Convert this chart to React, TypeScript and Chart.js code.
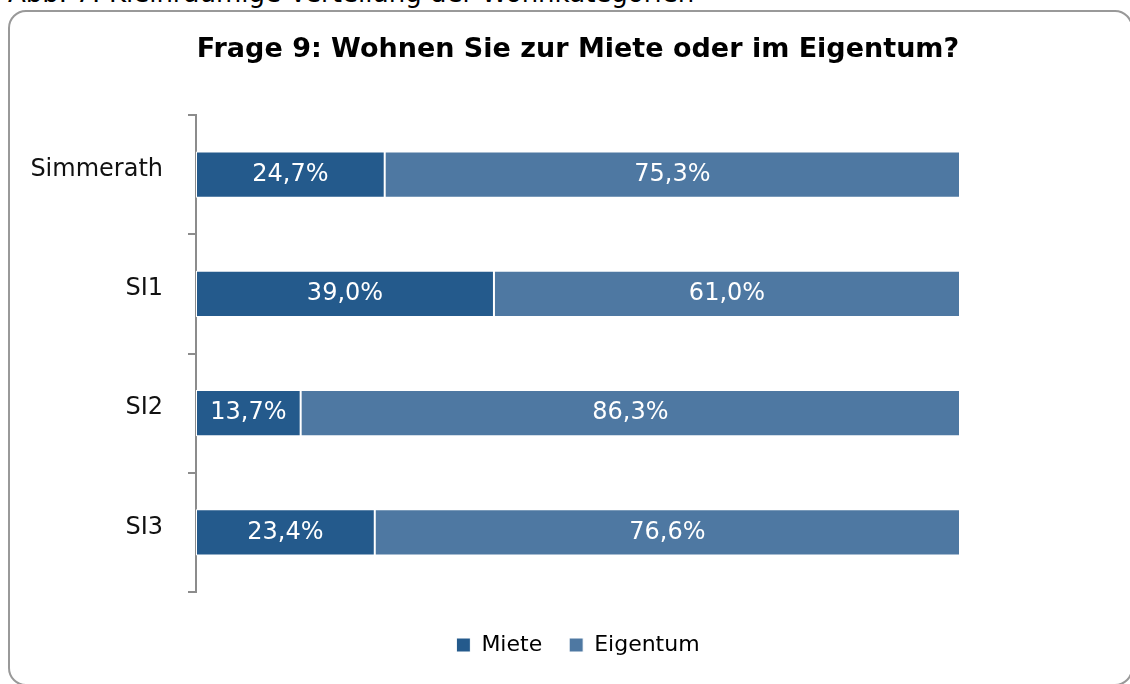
import React, { useEffect, useRef } from "react";
import { Chart, registerables } from "chart.js";

Chart.register(...registerables);

const captionText = "Abb. 7: Kleinräumige Verteilung der Wohnkategorien";
const chartTitle = "Frage 9: Wohnen Sie zur Miete oder im Eigentum?";
const categories = ["Simmerath", "SI1", "SI2", "SI3"];
const seriesNames = ["Miete", "Eigentum"];
const mieteValues = [24.7, 39.0, 13.7, 23.4];
const eigentumValues = [75.3, 61.0, 86.3, 76.6];
const seriesColors = ["#245A8C", "#4E78A2"];

const FONT = "'DejaVu Sans', Verdana, sans-serif";

const fmt = (v: number) => v.toFixed(1).replace(".", ",") + "%";

const valueLabels = {
  id: "valueLabels",
  afterDatasetsDraw(chart: any) {
    const ctx = chart.ctx;
    ctx.save();
    ctx.fillStyle = "#ffffff";
    ctx.font = `24px ${FONT}`;
    ctx.textAlign = "center";
    ctx.textBaseline = "middle";
    chart.data.datasets.forEach((ds: any, di: number) => {
      const meta = chart.getDatasetMeta(di);
      meta.data.forEach((el: any, i: number) => {
        const v = ds.data[i];
        const x = (el.x + el.base) / 2;
        ctx.fillText(fmt(v), x, el.y);
      });
    });
    ctx.restore();
  },
};

export default function App() {
  const ref = useRef<HTMLCanvasElement>(null);

  useEffect(() => {
    if (!ref.current) return;
    const chart = new Chart(ref.current, {
      type: "bar",
      data: {
        labels: categories,
        datasets: [
          {
            label: seriesNames[0],
            data: mieteValues,
            backgroundColor: seriesColors[0],
            borderColor: "#ffffff",
            borderWidth: 1,
            borderSkipped: false,
          },
          {
            label: seriesNames[1],
            data: eigentumValues,
            backgroundColor: seriesColors[1],
            borderColor: "#ffffff",
            borderWidth: 1,
            borderSkipped: false,
          },
        ],
      },
      options: {
        indexAxis: "y",
        responsive: false,
        animation: false,
        devicePixelRatio: 1,
        datasets: { bar: { categoryPercentage: 1, barPercentage: 0.386 } },
        layout: { padding: { left: 0, right: 170, top: 0, bottom: 18 } },
        scales: {
          x: {
            stacked: true,
            min: 0,
            max: 100,
            display: true,
            grid: { display: false },
            border: { display: false },
            ticks: { display: false },
            afterFit: (s: any) => {
              s.height = 15;
            },
          },
          y: {
            stacked: true,
            grid: {
              display: true,
              drawOnChartArea: false,
              drawTicks: true,
              tickLength: 8,
              color: "#8c8c8c",
              lineWidth: 2,
            },
            border: { display: true, color: "#8c8c8c", width: 2 },
            ticks: {
              padding: 25,
              labelOffset: -5,
              color: "#111111",
              font: { family: FONT, size: 24 },
            },
            afterFit: (s: any) => {
              s.width = 176;
            },
          },
        },
        plugins: {
          title: {
            display: true,
            fullSize: false,
            text: chartTitle,
            color: "#000000",
            font: { family: FONT, size: 27, weight: "bold", lineHeight: 1.2 },
            padding: { top: 14, bottom: 48.6 },
          },
          legend: {
            display: true,
            fullSize: false,
            position: "bottom",
            labels: {
              boxWidth: 14,
              boxHeight: 14,
              padding: 27,
              color: "#000000",
              font: { family: FONT, size: 22 },
            },
          },
          tooltip: { enabled: false },
        },
      },
      plugins: [valueLabels],
    } as any);
    return () => chart.destroy();
  }, []);

  return (
    <div style={{ position: "absolute", left: 0, top: 0, width: 1130, height: 684, overflow: "hidden", background: "#fff" }}>
      <div
        style={{
          position: "absolute",
          left: 8,
          top: -20,
          fontFamily: FONT,
          fontSize: 26,
          lineHeight: "26px",
          whiteSpace: "nowrap",
          color: "#000",
        }}
      >
        {captionText}
      </div>
      <div
        style={{
          position: "absolute",
          left: 8,
          top: 10,
          width: 1125,
          height: 676,
          border: "2px solid #999",
          borderRadius: 18,
          boxSizing: "border-box",
        }}
      />
      <canvas
        ref={ref}
        width={1110}
        height={664}
        style={{ position: "absolute", left: 20, top: 20, width: 1110, height: 664 }}
      />
    </div>
  );
}
